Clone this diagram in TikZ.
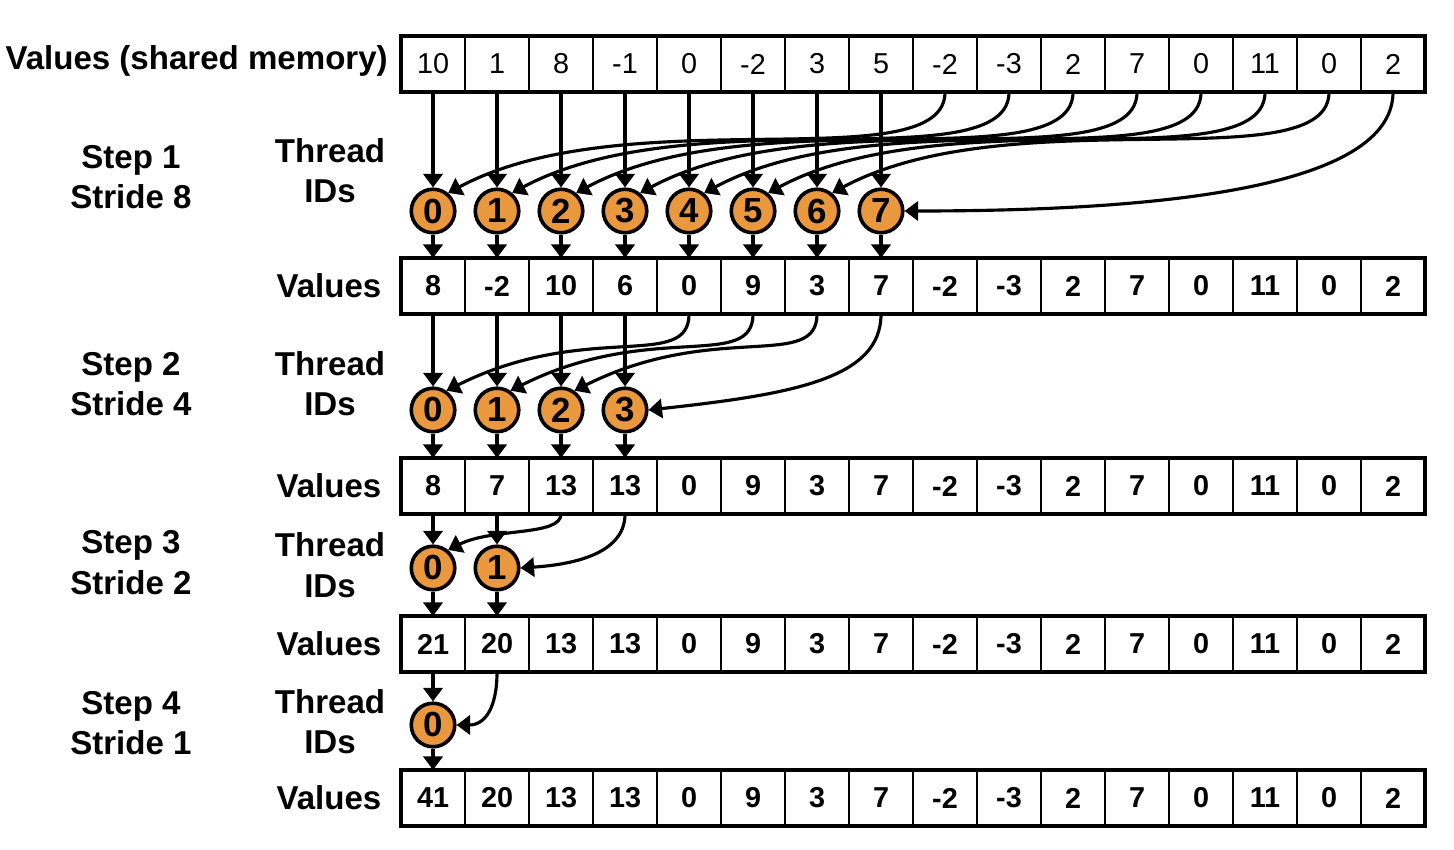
\documentclass[tikz,border=0pt]{standalone}
\usepackage{fontspec}
\setmainfont{Liberation Sans}
\usetikzlibrary{arrows.meta}
\definecolor{threadorange}{RGB}{233,152,62}

\tikzset{
  cell/.style={draw, line width=0.7pt, minimum width=1cm, minimum height=0.875cm,
    inner sep=0pt, outer sep=0pt, font=\fontsize{12.8}{15}\selectfont\bfseries},
  tid/.style={circle, draw, line width=1.6pt, fill=threadorange, minimum size=0.68cm,
    inner sep=0pt, font=\fontsize{15.5}{16}\selectfont\bfseries},
  arr/.style={line width=1.4pt, -{Triangle[length=6pt,width=8.5pt]}},
  lbl/.style={font=\fontsize{14.7}{17.8}\selectfont\bfseries, align=center, inner sep=0pt},
}

\begin{document}
\begin{tikzpicture}
    \useasboundingbox (-6.266,0) rectangle (16.453,13.281);

    % Shared memory row (regular weight)
    \foreach \v [count=\i from 0] in {10,1,8,-1,0,-2,3,5,-2,-3,2,7,0,11,0,2} {
        \node[cell, font=\fontsize{12.8}{15}\selectfont] (r0-\i) at (\i+0.5,12.281) {\v};
    }
    \draw[line width=1.8pt] (r0-0.north west) rectangle (r0-15.south east);
    \node[lbl, anchor=base east] (shared) at (-0.2,12.19) {Values (shared memory)};

    % Value rows after each step
    \foreach \r/\y/\vals in {
        1/8.8125/{8,-2,10,6,0,9,3,7,-2,-3,2,7,0,11,0,2},
        2/5.6875/{8,7,13,13,0,9,3,7,-2,-3,2,7,0,11,0,2},
        3/3.219/{21,20,13,13,0,9,3,7,-2,-3,2,7,0,11,0,2},
        4/0.8125/{41,20,13,13,0,9,3,7,-2,-3,2,7,0,11,0,2}} {
        \foreach \v [count=\i from 0] in \vals {
            \node[cell] (r\r-\i) at (\i+0.5,\y) {\v};
        }
        \draw[line width=1.8pt] (r\r-0.north west) rectangle (r\r-15.south east);
        \node[lbl, anchor=east] (val\r) at (-0.3,\y) {Values};
    }

    % Thread circles, straight arrows and labels
    \foreach \p/\s/\y/\n/\k/\ly/\ty in {0/1/9.984/7/8/10.51/10.62, 1/2/6.875/3/4/7.28/7.29,
                                        2/3/4.406/1/2/4.49/4.45, 3/4/1.953/0/1/1.98/2.0} {
        \foreach \i in {0,...,\n} {
            \node[tid] (t\s-\i) at (\i+0.5,\y) {\i};
            \draw[arr] (r\p-\i.south) -- (t\s-\i.north);
            \draw[arr] (t\s-\i.south) -- (r\s-\i.north);
        }
        \node[lbl] (thr\s) at (-1.11,\ty) {Thread\\IDs};
        \node[lbl] (step\s) at (-4.22,\ly) {Step \s\\Stride \k};
    }

    % Step 1: stride 8
    \foreach \i [evaluate=\i as \j using int(\i+8)] in {0,...,6} {
        \draw[arr] (r0-\j.south) .. controls +(0,-1.4) and +(2.8,1.5) .. (t1-\i.50);
    }
    \draw[arr] (r0-15.south) .. controls +(0,-1.5) and +(4,0) .. (t1-7.east);

    % Step 2: stride 4
    \foreach \i [evaluate=\i as \j using int(\i+4)] in {0,1,2} {
        \draw[arr] (r1-\j.south) .. controls +(0,-0.9) and +(2.2,1.1) .. (t2-\i.55);
    }
    \draw[arr] (r1-7.south) .. controls +(0,-1.0) and +(2.3,0.25) .. (t2-3.east);

    % Step 3: stride 2
    \draw[arr] (r2-2.south) .. controls +(0,-0.35) and +(0.7,0.35) .. (t3-0.50);
    \draw[arr] (r2-3.south) .. controls +(0,-0.65) and +(0.75,0.05) .. (t3-1.east);

    % Step 4: stride 1
    \draw[arr] (r3-1.south) .. controls +(0,-0.55) and +(0.45,0) .. (t4-0.east);
\end{tikzpicture}
\end{document}
